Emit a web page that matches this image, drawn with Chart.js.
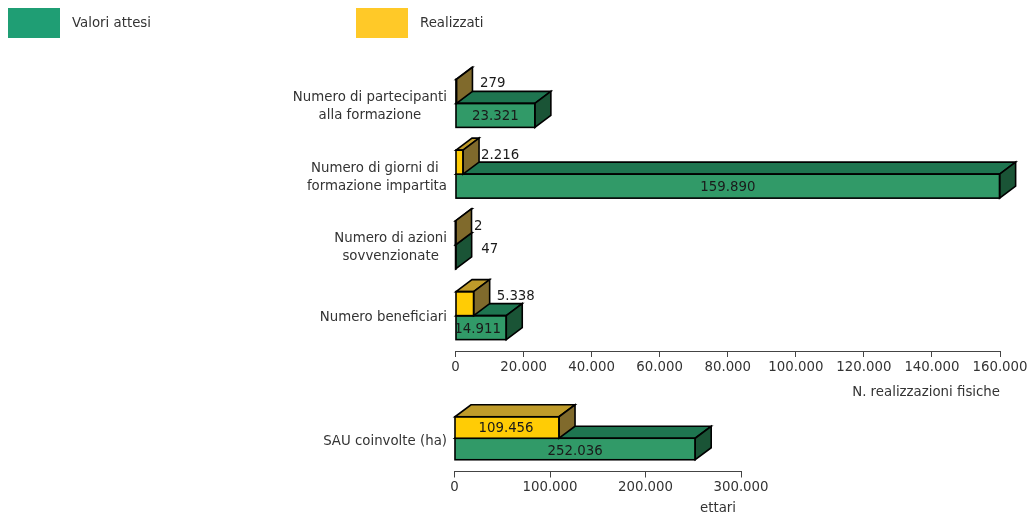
<!DOCTYPE html>
<html><head><meta charset="utf-8">
<style>
html,body{margin:0;padding:0;background:#fff;width:1028px;height:515px;overflow:hidden}
canvas{position:absolute;left:0}
#c1{top:0}
#c2{top:395px}
</style>
<script src="https://cdn.jsdelivr.net/npm/chart.js@4/dist/chart.umd.js"></script>
</head><body>
<canvas id="c1" width="1028" height="402"></canvas>
<canvas id="c2" width="1028" height="120"></canvas>
<script>
const seriesNames = ["Realizzati", "Valori attesi"];
const categoriesTop = [["Numero di partecipanti","alla formazione"],["Numero di giorni di ","formazione impartita"],["Numero di azioni","sovvenzionate"],["Numero beneficiari"]];
const realizzatiTop = [279, 2216, 2, 5338];
const attesiTop = [23321, 159890, 47, 14911];
const categoriesBottom = [["SAU coinvolte (ha)"]];
const realizzatiBottom = [109456];
const attesiBottom = [252036];
const axisTitleTop = "N. realizzazioni fisiche";
const axisTitleBottom = "ettari";

const FONT = '"DejaVu Sans", sans-serif', FS = 13.33, DX = 16, DY = 12;
const palette = {
  g:{front:'#319A68',top:'#1E7550',side:'#1A5436',swatch:'#1F9E74'},
  y:{front:'#FFCC05',top:'#BF9B2A',side:'#806A2C',swatch:'#FFC928'}
};
const fmt = v => String(v).replace(/\B(?=(\d{3})+$)/g,'.');

const legendBoxes = {
  id:'legendBoxes',
  afterDraw(chart){
    const c = chart.ctx;
    c.save();
    c.font=FS+'px '+FONT;c.textBaseline='middle';c.textAlign='left';
    [[1,8,palette.g.swatch],[0,356,palette.y.swatch]].forEach(([i,x,col])=>{
      c.fillStyle=col;c.fillRect(x,8,52,30);
      c.fillStyle='#333';c.fillText(seriesNames[i],x+64,23.5);
    });
    c.restore();
  }
};

const bars3d = {
  id:'bars3d',
  afterDatasetDraw(chart,args){
    const c = chart.ctx, pal = args.index===0?palette.y:palette.g;
    c.save();
    c.lineJoin='miter';
    args.meta.data.forEach(b=>{
      const x0=b.base,x1=b.x,t=b.y-b.height/2,bt=b.y+b.height/2;
      c.lineWidth=1.6;c.strokeStyle='#000';
      c.fillStyle=pal.top;
      c.beginPath();c.moveTo(x0,t);c.lineTo(x0+DX,t-DY);c.lineTo(x1+DX,t-DY);c.lineTo(x1,t);c.closePath();c.fill();c.stroke();
      c.fillStyle=pal.side;
      c.beginPath();c.moveTo(x1,t);c.lineTo(x1+DX,t-DY);c.lineTo(x1+DX,bt-DY);c.lineTo(x1,bt);c.closePath();c.fill();c.stroke();
      c.strokeRect(x0,t,x1-x0,bt-t);
    });
    c.restore();
  },
  afterDraw(chart,args,o){
    const c = chart.ctx, y = chart.scales.y;
    c.save();
    c.font=FS+'px '+FONT;
    c.fillStyle='#333';c.textBaseline='middle';c.textAlign='center';
    chart.data.labels.forEach((lines,i)=>{
      const w=Math.max(...lines.map(l=>c.measureText(l).width));
      const cy=y.getPixelForTick(i)+(lines.length>1?o.catDy2:o.catDy1);
      lines.forEach((l,j)=>c.fillText(l,o.catRight-w/2,cy+(j-(lines.length-1)/2)*o.catLine));
    });
    c.fillStyle='#1a1a1a';
    chart.data.datasets.forEach((ds,di)=>{
      chart.getDatasetMeta(di).data.forEach((b,i)=>{
        const s=o.shift[di][i], txt=fmt(ds.data[i]);
        if(s.out){c.textAlign='left';c.fillText(txt,b.x+DX+s.dx,b.y+s.dy+1);}
        else{c.textAlign='center';c.fillText(txt,(b.base+b.x)/2+s.dx,b.y+s.dy+1);}
      });
    });
    c.fillStyle='#333';c.textAlign='right';
    c.fillText(o.title,o.titleRight,o.titleY);
    c.restore();
  }
};

function make(id,labels,real,att,max,step,cfg){
  return new Chart(document.getElementById(id),{
    type:'bar',
    data:{labels,datasets:[
      {label:seriesNames[0],data:real,backgroundColor:palette.y.front,borderWidth:0},
      {label:seriesNames[1],data:att,backgroundColor:palette.g.front,borderWidth:0}
    ]},
    plugins:cfg.legend?[bars3d,legendBoxes]:[bars3d],
    options:{
      indexAxis:'y',responsive:false,animation:false,
      layout:{padding:{top:cfg.top,right:1028-cfg.right,bottom:0,left:0}},
      datasets:{bar:{barThickness:cfg.bar}},
      plugins:{legend:{display:false},tooltip:{enabled:false},
        bars3d:{shift:cfg.shift,title:cfg.title,titleRight:cfg.titleRight,titleY:cfg.titleY,catRight:447,catLine:18,catDy1:cfg.catDy1,catDy2:3}},
      scales:{
        y:{grid:{display:false},border:{display:false},ticks:{display:false},
           afterFit(s){s.width=cfg.left;s.paddingTop=0;s.paddingBottom=0;}},
        x:{min:0,max:max,
           grid:{drawOnChartArea:false,drawTicks:true,tickLength:6,color:'#444',lineWidth:1},
           border:{display:true,color:'#444',width:1},
           ticks:{stepSize:step,autoSkip:false,maxRotation:0,padding:cfg.tickPad,color:'#333',font:{family:FONT,size:FS},callback:v=>fmt(v)},
           afterFit(s){s.height=cfg.xh;s.paddingLeft=0;s.paddingRight=0;}}
      }
    }
  });
}

make('c1',categoriesTop,realizzatiTop,attesiTop,160000,20000,{
  legend:true,left:455.5,right:1000,top:68,xh:402-351,bar:24,title:axisTitleTop,titleRight:1000,titleY:393,catDy1:2,tickPad:3,
  shift:[[{out:1,dx:7.5,dy:-9},{out:1,dx:2,dy:-8},{out:1,dx:2.5,dy:-7},{out:1,dx:7,dy:-8}],
         [{dx:0,dy:0},{dx:0,dy:0},{out:1,dx:9.5,dy:-8},{dx:-3.5,dy:1}]]
});
make('c2',categoriesBottom,realizzatiBottom,attesiBottom,300000,100000,{
  left:454.5,right:741,top:10,xh:120-76.5,bar:21.5,title:axisTitleBottom,titleRight:736,titleY:114,catDy1:3,tickPad:2,
  shift:[[{dx:-1,dy:0.5}],[{dx:0,dy:1.5}]]
});
</script>
</body></html>
